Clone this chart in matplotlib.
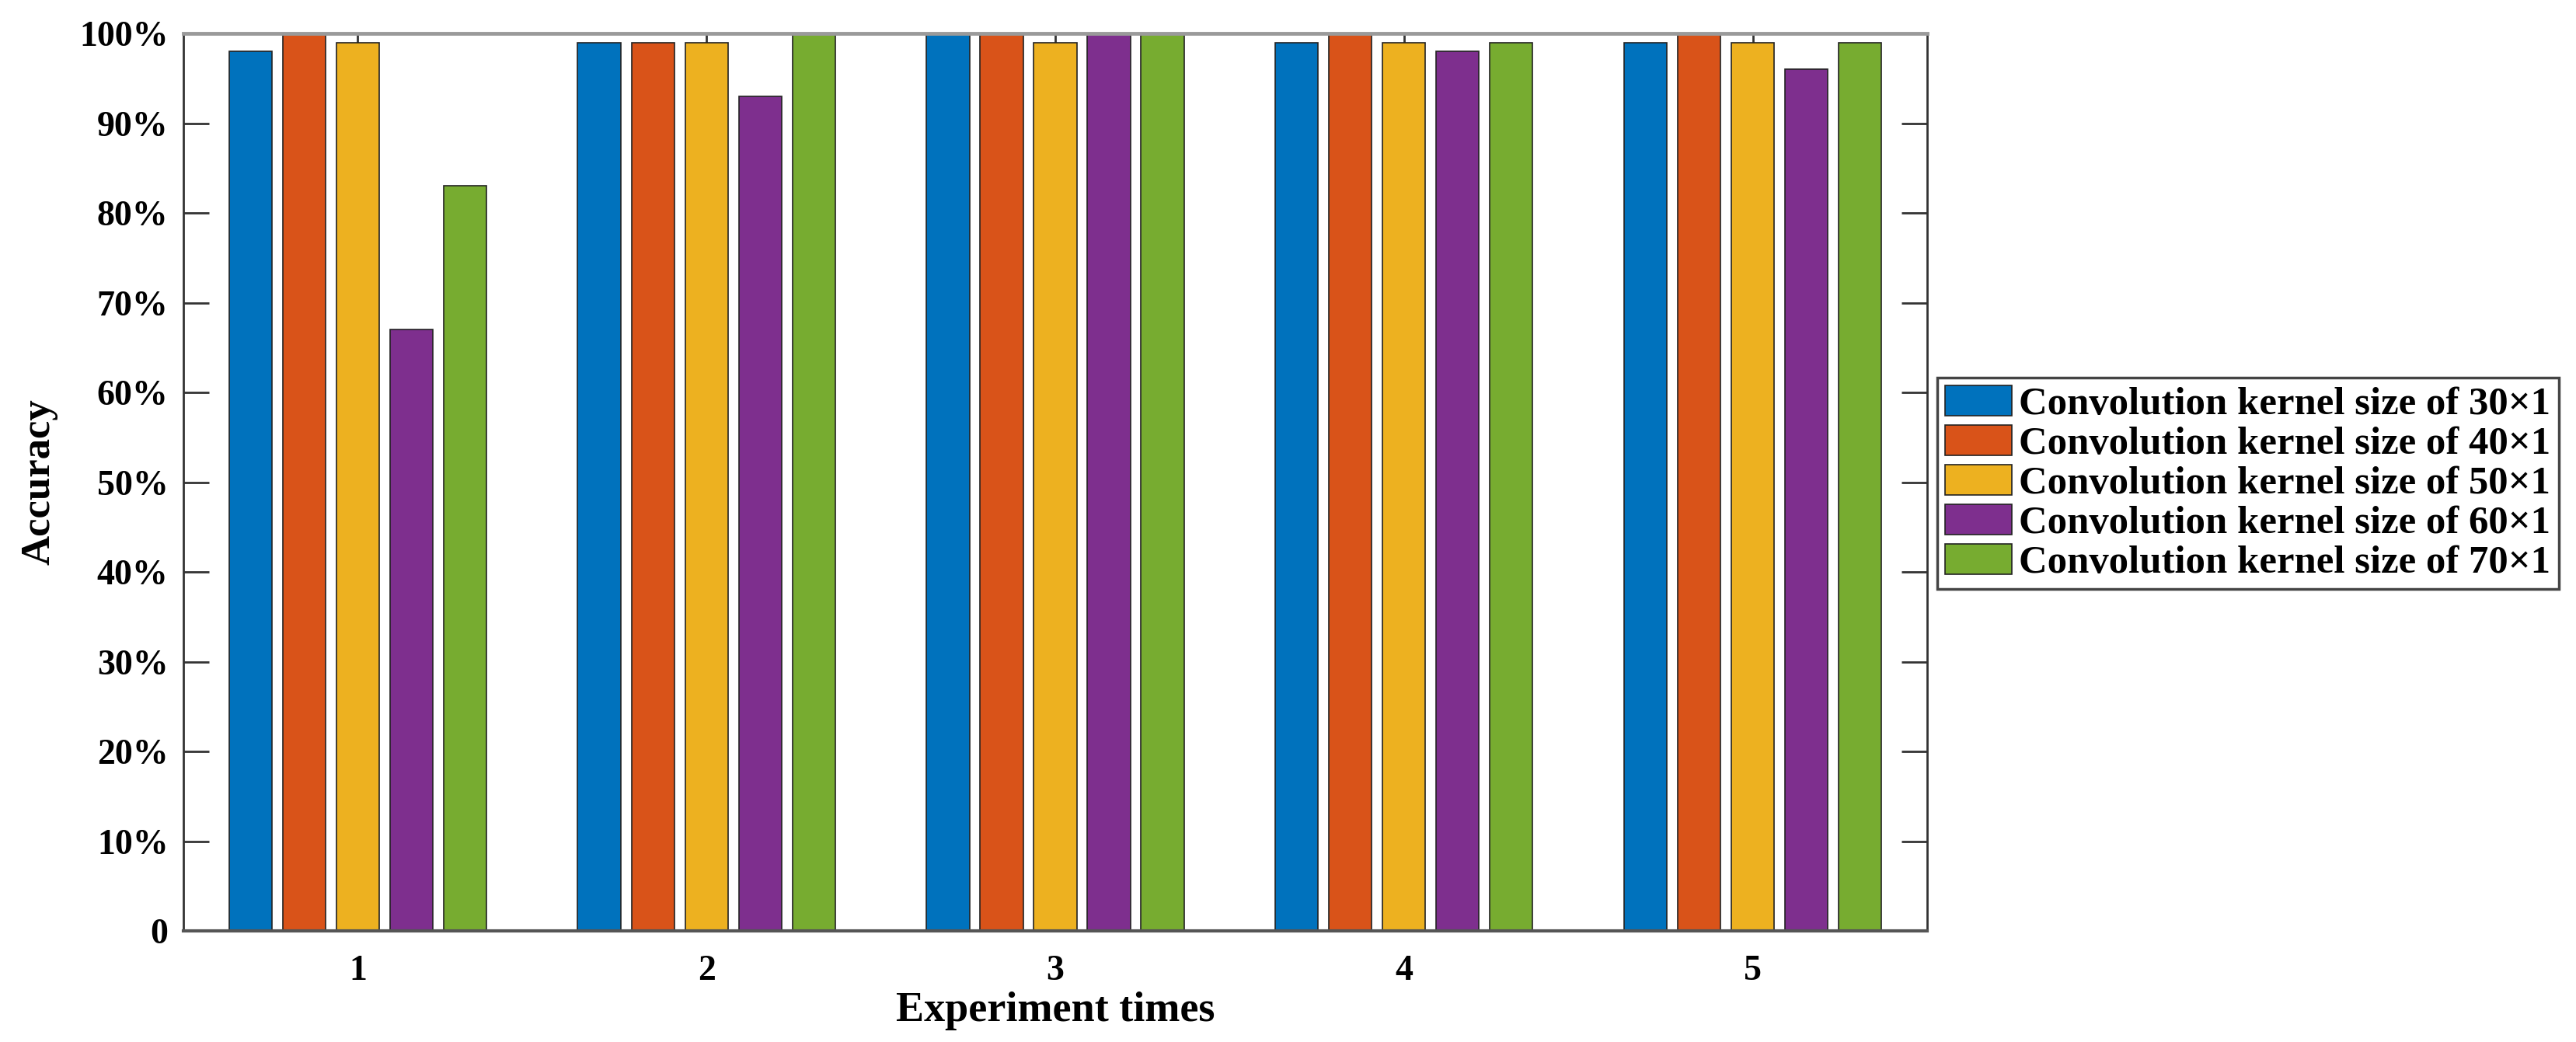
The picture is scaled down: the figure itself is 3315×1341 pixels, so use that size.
import numpy as np
import matplotlib.pyplot as plt

# Accuracy (%) per experiment for each convolution kernel size
experiments = [1, 2, 3, 4, 5]
kernel_labels = ['Convolution kernel size of 30\u00d71',
                 'Convolution kernel size of 40\u00d71',
                 'Convolution kernel size of 50\u00d71',
                 'Convolution kernel size of 60\u00d71',
                 'Convolution kernel size of 70\u00d71']
acc_30 = [98, 99, 100, 99, 99]
acc_40 = [100, 99, 100, 100, 100]
acc_50 = [99, 99, 99, 99, 99]
acc_60 = [67, 93, 100, 98, 96]
acc_70 = [83, 100, 100, 99, 99]
y_ticks = [0, 10, 20, 30, 40, 50, 60, 70, 80, 90, 100]
y_ticklabels = ['0'] + ['%d%%' % v for v in y_ticks[1:]]

series = [acc_30, acc_40, acc_50, acc_60, acc_70]
colors = ['#0072BD', '#D95319', '#EDB120', '#7E2F8E', '#77AC30']

plt.rcParams['font.family'] = ['Liberation Serif', 'DejaVu Serif']
plt.rcParams['font.weight'] = 'bold'

fig = plt.figure(figsize=(33.15, 13.41), dpi=100)
ax = fig.add_axes([0.0712, 0.1066, 0.6769, 0.8613])

# MATLAB-style grouped bars
n = len(series)
group_w = min(0.8, n / (n + 1.5))
step = group_w / n
x = np.array(experiments, dtype=float)
for i, (vals, col, lab) in enumerate(zip(series, colors, kernel_labels)):
    ax.bar(x + (i - (n - 1) / 2) * step, vals, width=0.8 * step,
           color=col, edgecolor='#222222', linewidth=1.2, label=lab, zorder=2)

ax.set_xlim(0.5, 5.5)
ax.set_ylim(0, 100)
ax.set_xticks(experiments)
ax.set_yticks(y_ticks)
ax.set_yticklabels(y_ticklabels)
ax.tick_params(axis='both', direction='in', labelsize=33, colors='#333333',
               labelcolor='black', width=2)
ax.tick_params(axis='y', length=24, right=True, pad=14)
ax.tick_params(axis='x', length=20, top=True, pad=22)

for side in ['left', 'right']:
    ax.spines[side].set_color('#333333')
    ax.spines[side].set_linewidth(2)
ax.spines['top'].set_color('#9a9a9a')
ax.spines['top'].set_linewidth(3.5)
ax.spines['bottom'].set_color('#555555')
ax.spines['bottom'].set_linewidth(3)

ax.set_xlabel('Experiment times', fontsize=39, fontweight='bold', labelpad=4)
ax.set_ylabel('Accuracy', fontsize=38, fontweight='bold', labelpad=20)

leg = ax.legend(loc='upper left', bbox_to_anchor=(2493 / 3315, 1 - 486 / 1341),
                bbox_transform=fig.transFigure, borderaxespad=0,
                fontsize=36.5, handlelength=1.7, handleheight=0.8,
                handletextpad=0.18, labelspacing=0.06, borderpad=0.2,
                fancybox=False, framealpha=1)
leg.get_frame().set_edgecolor('#444444')
leg.get_frame().set_linewidth(2.5)
for t in leg.get_texts():
    t.set_fontweight('bold')

fig.savefig('out.png', dpi=100)
